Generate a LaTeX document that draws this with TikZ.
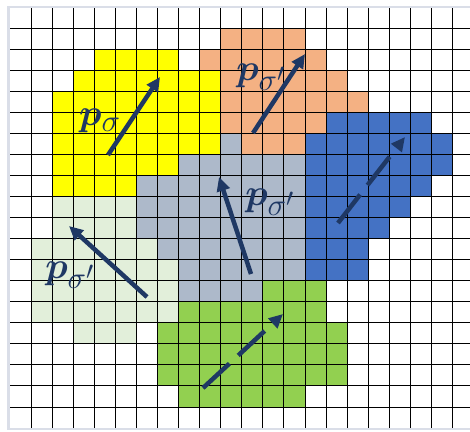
\documentclass[tikz,border=0pt]{standalone}
\usepackage{amsmath,amssymb,bm}
\usetikzlibrary{arrows.meta}
\definecolor{cellyellow}{RGB}{255,255,0}
\definecolor{cellorange}{RGB}{244,177,131}
\definecolor{cellblue}{RGB}{68,114,196}
\definecolor{cellgray}{RGB}{173,185,202}
\definecolor{celllight}{RGB}{226,239,218}
\definecolor{cellgreen}{RGB}{146,208,80}
\definecolor{vecblue}{RGB}{31,56,100}
\definecolor{framegray}{RGB}{218,222,232}
% one row of coloured cells per entry: row/first column/last column
\newcommand{\cells}[2]{%
  \foreach \r/\a/\b in {#2}
    \fill[#1] ({10+21.07*\a},{7+21.05*\r}) rectangle ({10+21.07*(\b+1)},{7+21.05*(\r+1)});}

\begin{document}
\begin{tikzpicture}[x=1pt,y=-1pt,>={Triangle[length=14pt,width=13pt]}]
  \tikzset{
    vec/.style={->,line width=4.5pt,draw=vecblue},
    dvec/.style={vec,dash pattern=on 36pt off 12pt},
    lbl/.style={text=vecblue,inner sep=0pt,font=\Huge,scale=1.5},
    gridline/.style={line width=0.9pt,black}
  }
  \clip (0,0) rectangle (470,431);

  % Coloured regions
  \cells{cellyellow}{2/4/7,3/3/9,4/2/9,5/2/9,6/2/9,7/2/7,8/2/5}
  \cells{cellorange}{1/10/13,2/9/14,3/10/15,4/10/16,5/10/14,6/11/13}
  \cells{cellblue}{5/15/19,6/14/20,7/14/20,8/14/19,9/14/18,10/14/17,11/14/16,12/14/16}
  \cells{cellgray}{6/10/10,7/8/13,8/6/13,9/6/13,10/6/13,11/7/13,12/8/13,13/8/11}
  \cells{celllight}{9/2/5,10/2/5,11/1/6,12/1/7,13/1/7,14/1/7,15/3/5}
  \cells{cellgreen}{13/12/14,14/8/14,15/7/15,16/7/15,17/7/15,18/8/13}

  % Grid and frame
  \foreach \i in {1,...,21}
    \draw[gridline] ({10+21.07*\i},7) -- ({10+21.07*\i},428);
  \foreach \j in {1,...,19}
    \draw[gridline] (10,{7+21.05*\j}) -- (470,{7+21.05*\j});
  \draw[framegray,line width=2.6pt] (8.5,6.8) rectangle (490,428.8);

  % Momentum arrows
  \coordinate (ytail) at (108,155);  \coordinate (yhead) at (160,77);
  \coordinate (otail) at (253,133);  \coordinate (ohead) at (305,54);
  \coordinate (gtail) at (251,274);  \coordinate (ghead) at (219,177);
  \coordinate (ltail) at (147,297);  \coordinate (lhead) at (69,226);
  \coordinate (btail) at (338,223);  \coordinate (bhead) at (405,137);
  \coordinate (ntail) at (203,388);  \coordinate (nhead) at (283,314);
  \draw[vec] (ytail) -- (yhead);
  \draw[vec] (otail) -- (ohead);
  \draw[vec] (gtail) -- (ghead);
  \draw[vec] (ltail) -- (lhead);
  \draw[dvec] (btail) -- (bhead);
  \draw[dvec] (ntail) -- (nhead);

  % Labels
  \node[lbl] (psigma) at (100,121) {$\bm{p}_{\sigma}$};
  \node[lbl] (porange) at (261,77) {$\bm{p}_{\sigma'}$};
  \node[lbl] (pgray) at (270,202) {$\bm{p}_{\sigma'}$};
  \node[lbl] (plight) at (70,275) {$\bm{p}_{\sigma'}$};
\end{tikzpicture}
\end{document}
